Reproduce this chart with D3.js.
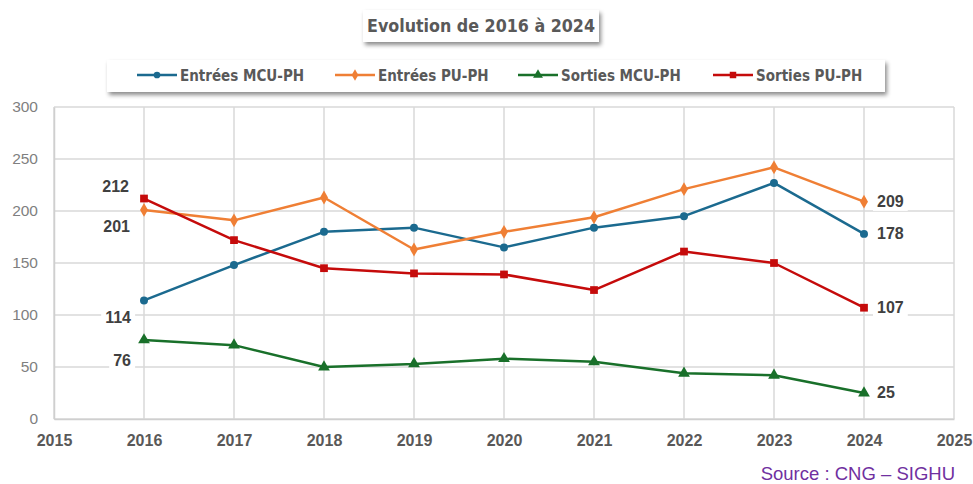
<!DOCTYPE html>
<html>
<head>
<meta charset="utf-8">
<script src="https://cdn.jsdelivr.net/npm/d3@7"></script>
<style>
  body { margin: 0; background: #fff; }
  svg { display: block; }
</style>
</head>
<body>
<div id="chart"></div>
<script>
// Data
const years = [2016, 2017, 2018, 2019, 2020, 2021, 2022, 2023, 2024];
const entreesMCU = [114, 148, 180, 184, 165, 184, 195, 227, 178];
const entreesPU = [201, 191, 213, 163, 180, 194, 221, 242, 209];
const sortiesMCU = [76, 71, 50, 53, 58, 55, 44, 42, 25];
const sortiesPU = [212, 172, 145, 140, 139, 124, 161, 150, 107];
const seriesNames = ['Entrées MCU-PH', 'Entrées PU-PH', 'Sorties MCU-PH', 'Sorties PU-PH'];
const yTicks = [0, 50, 100, 150, 200, 250, 300];
const xTicks = [2015, 2016, 2017, 2018, 2019, 2020, 2021, 2022, 2023, 2024, 2025];

const width = 973;
const height = 484;

const seriesValues = [entreesMCU, entreesPU, sortiesMCU, sortiesPU];
const colors = ['#1b6a8f', '#ef7f35', '#19702a', '#c50b0b'];
const symbols = [d3.symbolCircle, d3.symbolDiamond, d3.symbolTriangle, d3.symbolSquare];
const symbolSizes = [50, 55, 60, 60];

const svg = d3.select('#chart')
    .append('svg')
    .attr('width', width)
    .attr('height', height);

const defs = svg.append('defs');
const shadow = defs.append('filter')
    .attr('id', 'shadow')
    .attr('x', '-10%').attr('y', '-30%')
    .attr('width', '120%').attr('height', '180%');
shadow.append('feDropShadow')
    .attr('dx', 2).attr('dy', 3)
    .attr('stdDeviation', 2)
    .attr('flood-color', '#000')
    .attr('flood-opacity', 0.45);

const x = d3.scaleLinear().domain([2015, 2025]).range([54, 954]);
const y = d3.scaleLinear().domain([0, 300]).range([419, 107]);

// Grid lines
const grid = svg.append('g');
grid.selectAll('line.h')
    .data(yTicks)
    .join('line')
    .attr('x1', x(2015)).attr('x2', x(2025))
    .attr('y1', d => y(d)).attr('y2', d => y(d))
    .attr('stroke', '#d9d9d9')
    .attr('stroke-width', 1.5);
grid.selectAll('line.v')
    .data(xTicks)
    .join('line')
    .attr('x1', d => x(d)).attr('x2', d => x(d))
    .attr('y1', y(0)).attr('y2', y(300))
    .attr('stroke', '#d9d9d9')
    .attr('stroke-width', 1.5);

// Axes
const yAxis = svg.append('g')
    .attr('transform', `translate(${x(2015)},0)`)
    .call(d3.axisLeft(y).tickValues(yTicks).tickSize(0).tickPadding(16));
yAxis.select('.domain').attr('stroke', '#cfcfcf').attr('stroke-width', 1.5);
yAxis.selectAll('text')
    .attr('font-family', 'Liberation Sans, Arial, sans-serif')
    .attr('font-size', '15.5px')
    .attr('fill', '#7f7f7f');

const xAxis = svg.append('g')
    .attr('transform', `translate(0,${y(0)})`)
    .call(d3.axisBottom(x).tickValues(xTicks).tickFormat(d3.format('d')).tickSize(0).tickPadding(16));
xAxis.select('.domain').attr('stroke', '#cfcfcf').attr('stroke-width', 1.5);
xAxis.selectAll('text')
    .attr('font-family', 'Liberation Sans, Arial, sans-serif')
    .attr('font-size', '16px')
    .attr('font-weight', 'bold')
    .attr('fill', '#595959');

// Lines and markers
const line = d3.line()
    .x((d, i) => x(years[i]))
    .y(d => y(d));

seriesValues.forEach((vals, s) => {
    svg.append('path')
        .datum(vals)
        .attr('d', line)
        .attr('fill', 'none')
        .attr('stroke', colors[s])
        .attr('stroke-width', 2.5)
        .attr('stroke-linejoin', 'round');

    svg.append('g')
        .selectAll('path')
        .data(vals)
        .join('path')
        .attr('d', d3.symbol().type(symbols[s]).size(symbolSizes[s]))
        .attr('transform', (d, i) => `translate(${x(years[i])},${y(d)})`)
        .attr('fill', colors[s]);
});

// Data labels (first and last point)
const labelLayer = svg.append('g');
function addLabel(px, py, txt, anchor) {
    const g = labelLayer.append('g');
    const t = g.append('text')
        .attr('x', px)
        .attr('y', py)
        .attr('text-anchor', anchor)
        .attr('dominant-baseline', 'middle')
        .attr('font-family', 'Liberation Sans, Arial, sans-serif')
        .attr('font-size', '16px')
        .attr('font-weight', 'bold')
        .attr('fill', '#404040')
        .text(txt);
    const b = t.node().getBBox();
    g.insert('rect', 'text')
        .attr('x', b.x - 4).attr('y', b.y - 1)
        .attr('width', b.width + 8).attr('height', b.height + 2)
        .attr('fill', '#fff');
}
// offsets for the 2016 labels: [dx, dy]
const firstOffsets = [[-13, 18], [-14, 18], [-13, 22], [-15, -11]];
seriesValues.forEach((vals, s) => {
    const f = vals[0];
    addLabel(x(years[0]) + firstOffsets[s][0], y(f) + firstOffsets[s][1], f, 'end');
    const l = vals[vals.length - 1];
    addLabel(x(years[years.length - 1]) + 13, y(l) + 1, l, 'start');
});

// Title box
const titleG = svg.append('g');
titleG.append('rect')
    .attr('x', 363).attr('y', 10)
    .attr('width', 236).attr('height', 32)
    .attr('fill', '#fff')
    .attr('filter', 'url(#shadow)');
titleG.append('text')
    .attr('x', 481).attr('y', 27)
    .attr('text-anchor', 'middle')
    .attr('dominant-baseline', 'middle')
    .attr('font-family', 'DejaVu Sans Condensed, sans-serif')
    .attr('font-size', '17.7px')
    .attr('font-weight', 'bold')
    .attr('fill', '#595959')
    .text('Evolution de 2016 à 2024');

// Legend box
const legendG = svg.append('g');
legendG.append('rect')
    .attr('x', 107).attr('y', 60)
    .attr('width', 778).attr('height', 32)
    .attr('fill', '#fff')
    .attr('filter', 'url(#shadow)');
const legendX = [137, 335, 518, 713];
seriesNames.forEach((name, s) => {
    const lx = legendX[s];
    legendG.append('line')
        .attr('x1', lx).attr('x2', lx + 40)
        .attr('y1', 75).attr('y2', 75)
        .attr('stroke', colors[s])
        .attr('stroke-width', 2.5);
    legendG.append('path')
        .attr('d', d3.symbol().type(symbols[s]).size(symbolSizes[s] * 0.7))
        .attr('transform', `translate(${lx + 20},75)`)
        .attr('fill', colors[s]);
    legendG.append('text')
        .attr('x', lx + 43).attr('y', 76)
        .attr('dominant-baseline', 'middle')
        .attr('font-family', 'DejaVu Sans Condensed, sans-serif')
        .attr('font-size', '15px')
        .attr('font-weight', 'bold')
        .attr('fill', '#595959')
        .text(name);
});

// Source
svg.append('text')
    .attr('x', 955).attr('y', 475)
    .attr('text-anchor', 'end')
    .attr('dominant-baseline', 'middle')
    .attr('font-family', 'Liberation Sans, Arial, sans-serif')
    .attr('font-size', '18.5px')
    .attr('fill', '#7030a0')
    .text('Source : CNG – SIGHU');
</script>
</body>
</html>
